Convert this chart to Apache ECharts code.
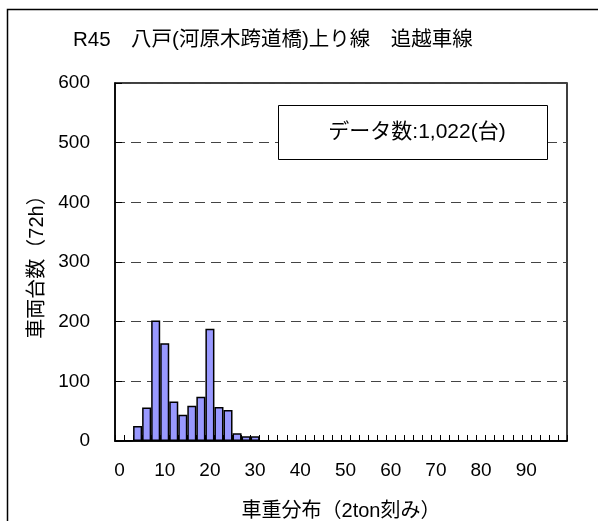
<!DOCTYPE html>
<html>
<head>
<meta charset="utf-8">
<script src="https://cdn.jsdelivr.net/npm/echarts@6/dist/echarts.min.js"></script>
<style>html,body{margin:0;padding:0;background:#fff;}#c{width:598px;height:521px;}</style>
</head>
<body>
<div id="c"></div>
<script>
// categories: 2ton bins
var categories = [];
for (var i = 0; i < 50; i++) categories.push(String(i * 2));
var counts = [0, 1, 25, 56, 202, 164, 66, 44, 59, 74, 188, 57, 52, 13, 8, 8,
  0,0,0,0,0,0,0,0,0,0,0,0,0,0,0,0,0,0,0,0,0,0,0,0,0,0,0,0,0,0,0,0,0,0];
var yTicks = [0, 100, 200, 300, 400, 500, 600];
var titleText = 'R45\u3000八戸(河原木跨道橋)上り線\u3000追越車線';
var noteText = 'データ数:1,022(台)';
var xName = '車重分布（2ton刻み）';
var yName = '車両台数（72h）';

var FF = "'Liberation Sans', 'Noto Sans CJK JP', sans-serif";
var chart = echarts.init(document.getElementById('c'), null, {renderer: 'canvas'});
chart.setOption({
  animation: false,
  backgroundColor: '#fff',
  title: {
    text: titleText, left: 68, top: 25,
    textStyle: {fontFamily: FF, fontSize: 20.5, fontWeight: 'normal', color: '#000'}
  },
  grid: {left: 115, top: 83, right: 31, bottom: 80, outerBoundsMode: 'none', containLabel: false,
    show: true, borderColor: '#000', borderWidth: 1.5, backgroundColor: 'transparent'},
  xAxis: {
    type: 'category', data: categories,
    name: xName, nameLocation: 'middle', nameGap: 60,
    nameTextStyle: {fontFamily: FF, fontSize: 20, color: '#000'},
    axisLine: {lineStyle: {color: '#000', width: 1.5}},
    axisTick: {show: true, inside: true, length: 6, interval: 0, lineStyle: {color: '#000', width: 1}},
    axisLabel: {interval: 4, margin: 20, fontFamily: FF, fontSize: 19, color: '#000'},
    splitLine: {show: false}
  },
  yAxis: {
    type: 'value', min: yTicks[0], max: yTicks[yTicks.length - 1], interval: 100,
    name: yName, nameLocation: 'middle', nameGap: 68, nameRotate: 90,
    nameTextStyle: {fontFamily: FF, fontSize: 20, color: '#000'},
    axisLine: {show: true, lineStyle: {color: '#000', width: 1.5}},
    axisTick: {show: true, inside: true, length: 7, lineStyle: {color: '#000', width: 1}},
    axisLabel: {margin: 25, fontFamily: FF, fontSize: 19, color: '#000'},
    splitLine: {show: true, lineStyle: {color: '#444', width: 1, type: [10, 6]}}
  },
  series: [{
    type: 'bar', data: counts, barWidth: '100%', barGap: '0%',
    itemStyle: {color: '#9999ff', borderColor: '#000', borderWidth: 1.5}
  }],
  graphic: [
    {type: 'rect', shape: {x: 7.5, y: 9.5, width: 700, height: 600}, style: {fill: 'none', stroke: '#000', lineWidth: 1.5}, z: 100},
    {type: 'rect', shape: {x: 278.5, y: 105.5, width: 269, height: 54}, style: {fill: '#fff', stroke: '#000', lineWidth: 1}, z: 100},
    {type: 'text', x: 417, y: 132, style: {text: noteText, fontFamily: FF, fontSize: 21, fill: '#000', align: 'center', verticalAlign: 'middle'}, z: 101}
  ]
});
</script>
</body>
</html>
